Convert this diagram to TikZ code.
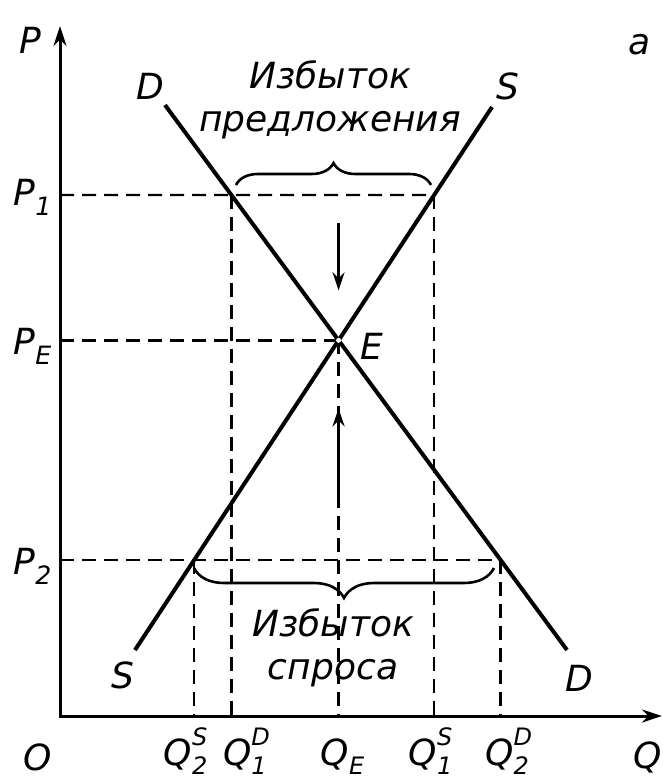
\documentclass[tikz,border=0pt]{standalone}
\usepackage{fontspec}
\setmainfont{DejaVu Sans}
\usetikzlibrary{arrows.meta,positioning,calc,decorations.pathreplacing}

\newcommand{\smallidx}[1]{{\fontsize{24}{24}\selectfont #1}}
\newcommand{\qlab}[2]{Q\rlap{\raisebox{20pt}{\smallidx{#2}}}\raisebox{-9pt}{\smallidx{#1}}\kern3pt}

\tikzset{
  curve/.style={line width=4pt},
  axes/.style={line width=3pt,{Stealth[length=20pt,width=13pt]}-{Stealth[length=20pt,width=13pt]}},
  guide/.style={line width=2.4pt,dash pattern=on 14pt off 8pt},
  shiftarrow/.style={line width=2.4pt,-{Stealth[length=18pt,width=12pt]}},
  bracebox/.style={line width=2.6pt,decorate,decoration={brace,amplitude=#1}},
  lbl/.style={font=\fontsize{36}{43}\selectfont\itshape,inner sep=0pt}
}

\begin{document}
\begin{tikzpicture}[x=1pt,y=-1pt]
\useasboundingbox (0,0) rectangle (663,782);

% Axes
\coordinate (O) at (60,716);
\coordinate (Ptop) at (60,26);
\coordinate (Qend) at (662,716);
\draw[axes] (Ptop) -- (O) -- (Qend);

% Demand and supply
\coordinate (Dtop) at (165,105);
\coordinate (Dbot) at (567,650);
\coordinate (Stop) at (492,107);
\coordinate (Sbot) at (135,650);
\draw[curve] (Dtop) -- (Dbot);
\draw[curve] (Stop) -- (Sbot);

% Crossing points
\coordinate (E)  at (intersection of Dtop--Dbot and Stop--Sbot);
\coordinate (D1) at (intersection of Dtop--Dbot and 0,195--1,195);
\coordinate (S1) at (intersection of Stop--Sbot and 0,195--1,195);
\coordinate (D2) at (intersection of Dtop--Dbot and 0,560--1,560);
\coordinate (S2) at (intersection of Stop--Sbot and 0,560--1,560);
\coordinate (P1) at (O |- D1);
\coordinate (PE) at (O |- E);
\coordinate (P2) at (O |- D2);

% Guide lines
\draw[guide] (P1) -- (S1);
\draw[guide] (PE) -- (E);
\draw[guide] (P2) -- (D2);
\foreach \c in {D1,S1,E,S2,D2}
  \draw[guide] (\c) -- (\c |- O);
\fill[white] (E) circle (2.5pt);

% Price moves
\coordinate (dnA) at ($(E)+(0,-117)$);
\coordinate (dnB) at ($(E)+(0,-50)$);
\coordinate (upA) at ($(E)+(0,155)$);
\coordinate (upB) at ($(E)+(0,68)$);
\draw[shiftarrow] (dnA) -- (dnB);
\draw[shiftarrow] (upA) -- (upB);

% Braces
\draw[bracebox=22pt] (236,185) -- (431,185);
\draw[bracebox=30pt] (494,568) -- (194,568);

% Labels
\node[lbl] (lblP) at (30,40) {P};
\node[lbl] (lblQ) at (648,757) {Q};
\node[lbl] (lblO) at (38,757) {O};
\node[lbl] (lbla) at (640,45) {a};
\node[lbl] (lblDt) at (150,86) {D};
\node[lbl] (lblSt) at (508,86) {S};
\node[lbl] (lblSb) at (123,675) {S};
\node[lbl] (lblDb) at (579,678) {D};
\node[lbl,anchor=west] (lblE) at ($(E)+(22,6)$) {E};
\node[lbl,anchor=east] (lblP1) at ($(P1)+(-8,2)$) {P\textsubscript{1}};
\node[lbl,anchor=east] (lblPE) at ($(PE)+(-8,6)$) {P\textsubscript{E}};
\node[lbl,anchor=east] (lblP2) at ($(P2)+(-8,6)$) {P\textsubscript{2}};
\node[lbl,align=center] (surplus) at (330,100) {Избыток\\предложения};
\node[lbl,align=center] (shortage) at (333,648) {Избыток\\спроса};
\node[lbl,anchor=base] (q2s) at ($(S2 |- O)+(-7,49)$) {\qlab{2}{S}};
\node[lbl,anchor=base] (q1d) at ($(D1 |- O)+(15,49)$) {\qlab{1}{D}};
\node[lbl,anchor=base] (qe)  at ($(E |- O)+(4,49)$) {Q\raisebox{-9pt}{\smallidx{E}}};
\node[lbl,anchor=base] (q1s) at ($(S1 |- O)+(-2,49)$) {\qlab{1}{S}};
\node[lbl,anchor=base] (q2d) at ($(D2 |- O)+(8,49)$) {\qlab{2}{D}};
\end{tikzpicture}
\end{document}
